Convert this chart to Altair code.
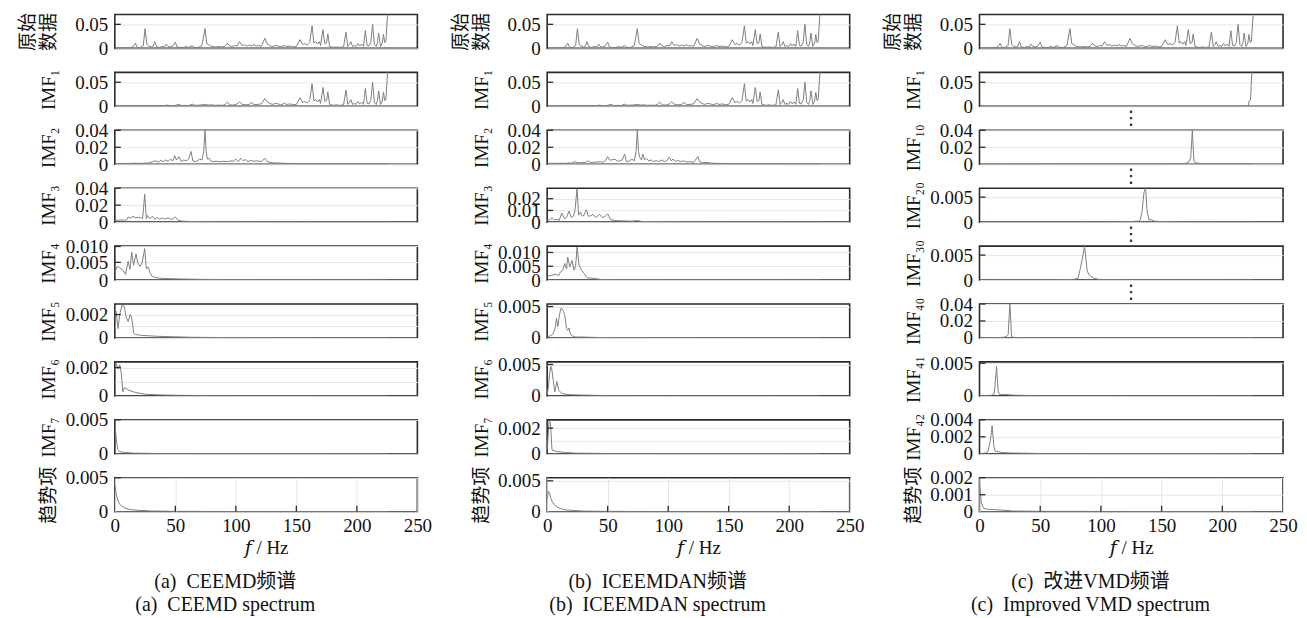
import altair as alt
import pandas as pd

FONT = "Liberation Serif, DejaVu Serif, Noto Sans CJK SC"

# ---------------- data (frequency in Hz, amplitude) ----------------
ORIG_F = [0, 4, 8, 12, 15, 17, 18.5, 21, 23.5, 25, 26.5, 28, 30, 31.5, 33, 34.5, 37, 39, 41, 42.5,
          44, 46, 48, 50, 51.5, 54, 57, 59, 61, 64, 66, 69, 72, 74.5, 76, 78, 80, 83, 86, 88,
          91, 93, 95, 97, 99, 101, 103, 105, 107, 109, 111, 113, 115, 117, 119, 121, 124, 126, 128, 130,
          133, 135, 137, 140, 142, 145, 147, 150, 153, 155, 157, 159, 161, 163, 164.5, 166, 167.5, 169, 170, 172,
          173.5, 175, 176, 177.5, 179, 181, 183, 186, 189, 191, 192.5, 194, 195, 196.5, 198, 199.5, 201, 202.5, 204, 205.5,
          207, 208.5, 210, 211.5, 213, 214.5, 216, 217, 218, 219.5, 221, 222, 223, 224, 226]
ORIG_V = [0.0005, 0.0008, 0.0012, 0.0015, 0.003, 0.011, 0.002, 0.002, 0.006, 0.041, 0.008, 0.005, 0.003, 0.004, 0.014, 0.003, 0.002, 0.004, 0.003, 0.009,
          0.004, 0.003, 0.005, 0.013, 0.003, 0.002, 0.002, 0.004, 0.002, 0.006, 0.002, 0.002, 0.006, 0.041, 0.010, 0.007, 0.004, 0.003, 0.004, 0.003,
          0.004, 0.011, 0.005, 0.004, 0.006, 0.005, 0.014, 0.006, 0.008, 0.005, 0.007, 0.005, 0.008, 0.005, 0.006, 0.004, 0.021, 0.009, 0.006, 0.004,
          0.006, 0.005, 0.003, 0.006, 0.004, 0.005, 0.003, 0.004, 0.018, 0.008, 0.010, 0.007, 0.012, 0.047, 0.011, 0.014, 0.009, 0.014, 0.006, 0.039,
          0.010, 0.012, 0.030, 0.004, 0.003, 0.002, 0.003, 0.002, 0.003, 0.034, 0.004, 0.008, 0.014, 0.004, 0.006, 0.004, 0.010, 0.005, 0.009, 0.004,
          0.037, 0.006, 0.005, 0.012, 0.050, 0.008, 0.004, 0.012, 0.032, 0.004, 0.011, 0.029, 0.012, 0.015, 0.095]

IMF1_LOW_F = [0, 5, 10, 13, 17, 20, 24, 27, 30, 33, 36, 40, 43, 46, 50, 53, 55, 58, 61, 64,
              66, 70, 72, 75, 77, 80, 83, 86, 89, 91, 93, 95, 98, 101, 103, 105, 108, 111, 113, 115,
              118, 121, 124, 126, 128, 130, 133, 135, 137, 140, 142, 145, 147, 150]
IMF1_LOW_V = [0.0005, 0.0008, 0.0015, 0.0010, 0.0018, 0.0008, 0.0015, 0.0010, 0.0020, 0.0012, 0.0018, 0.0010, 0.0025, 0.0012, 0.0020, 0.0040, 0.0015, 0.0020, 0.0015, 0.0045,
              0.0020, 0.0025, 0.0030, 0.0040, 0.0025, 0.0030, 0.0020, 0.0025, 0.0020, 0.0040, 0.0090, 0.0030, 0.0025, 0.0050, 0.0095, 0.0045, 0.0030, 0.0040, 0.0080, 0.0035,
              0.0040, 0.0050, 0.0160, 0.0090, 0.0060, 0.0040, 0.0060, 0.0050, 0.0030, 0.0060, 0.0040, 0.0050, 0.0030, 0.0040]

A_IMF2_F = [0, 5, 10, 15, 20, 25, 28, 31, 34, 36, 38, 40, 42, 44, 46, 48, 49.5, 51, 53, 55, 57, 59, 61, 63, 64.5,
            67, 70, 72, 73.5, 74.5, 75.5, 76.5, 78, 79, 81, 84, 87, 90, 93, 96, 98, 100, 102, 104, 106, 108, 110,
            112, 115, 118, 121, 124, 126, 129, 132, 136, 140, 150, 170, 200, 225]
A_IMF2_V = [0.0008, 0.0010, 0.0008, 0.0012, 0.0010, 0.0012, 0.0015, 0.0030, 0.0040, 0.0025, 0.0045, 0.0030, 0.0050, 0.0035, 0.0060, 0.0040, 0.0100, 0.0050, 0.0090, 0.0030, 0.0050, 0.0040, 0.0060, 0.0150, 0.0040,
            0.0030, 0.0060, 0.0050, 0.0150, 0.0400, 0.0150, 0.0060, 0.0070, 0.0040, 0.0030, 0.0035, 0.0030, 0.0035, 0.0030, 0.0040, 0.0035, 0.0060, 0.0030, 0.0070, 0.0040, 0.0055, 0.0030,
            0.0045, 0.0035, 0.0040, 0.0030, 0.0070, 0.0030, 0.0020, 0.0015, 0.0015, 0.0010, 0.0008, 0.0006, 0.0005, 0.0004]

A_IMF3_F = [0, 3, 6, 8, 10, 11, 13, 15, 17, 19.5, 21.5, 23, 24.7, 26, 27, 29, 31, 33, 35, 37, 39, 41, 44, 47, 50,
            52.5, 56, 61, 70, 80, 100, 120, 150, 225]
A_IMF3_V = [0.0025, 0.0022, 0.0026, 0.0020, 0.0030, 0.0060, 0.0048, 0.0068, 0.0052, 0.0055, 0.0050, 0.0045, 0.0330, 0.0040, 0.0080, 0.0040, 0.0070, 0.0035, 0.0056, 0.0035, 0.0050, 0.0035, 0.0050, 0.0030, 0.0060,
            0.0020, 0.0012, 0.0008, 0.0005, 0.0004, 0.0003, 0.0002, 0.0001, 0.0]

A_IMF4_F = [0, 2, 4, 6.6, 8.8, 11, 12.5, 14, 15.5, 17.5, 19, 20.8, 22.5, 24.7, 26, 27.5, 29, 31, 34, 38, 45, 55, 70, 100, 150, 225]
A_IMF4_V = [0.0021, 0.0039, 0.0035, 0.0028, 0.0016, 0.0053, 0.0030, 0.0079, 0.0042, 0.0074, 0.0048, 0.0039, 0.0048, 0.0089, 0.0032, 0.0037, 0.0021, 0.0010, 0.0007, 0.0005, 0.0004, 0.0003, 0.0002, 0.0001, 0.00005, 0.0]

A_IMF5_F = [0, 1, 2.7, 4, 6, 7.7, 9.3, 11, 12.6, 14, 15.6, 17, 22, 36, 50, 63, 90, 150, 225]
A_IMF5_V = [0.0015, 0.0023, 0.0008, 0.0020, 0.0028, 0.0027, 0.0018, 0.0014, 0.0020, 0.0017, 0.0004, 0.0003, 0.00022, 0.00014, 0.0001, 0.00006, 0.00003, 0.00001, 0.0]

A_IMF6_F = [0, 1, 2.7, 4, 5.2, 6.6, 8, 11.5, 17, 25, 36, 50, 80, 150, 225]
A_IMF6_V = [0.0017, 0.0023, 0.0019, 0.0022, 0.0017, 0.0003, 0.0006, 0.0004, 0.00024, 0.00012, 0.00007, 0.00004, 0.00002, 0.00001, 0.0]

A_IMF7_F = [0, 0.8, 1.6, 2.5, 4, 8, 15, 30, 80, 225]
A_IMF7_V = [0.0045, 0.0030, 0.0015, 0.0006, 0.0003, 0.0002, 0.0001, 0.00005, 0.00002, 0.0]

A_TREND_F = [0, 0.8, 1.6, 3.3, 5, 8.8, 13, 20, 30, 50, 100, 225]
A_TREND_V = [0.0039, 0.0030, 0.0022, 0.0013, 0.0009, 0.0005, 0.0003, 0.0002, 0.0001, 0.00005, 0.00002, 0.0]

B_IMF2_F = [0, 5, 10, 15, 18, 20, 23, 26, 29, 32, 34, 36, 40, 44, 46, 48, 50, 51.5, 53, 56, 58, 60, 62, 64, 65.5,
            68, 70, 72, 73.5, 74.5, 75.5, 76.5, 78, 79, 80.5, 82, 84, 86, 88, 90, 92, 95, 97, 99, 101, 102.5, 104,
            106, 108, 110, 113, 115, 118, 121, 124.5, 126, 129, 133, 136, 140, 150, 170, 190, 200, 225]
B_IMF2_V = [0.0012, 0.0010, 0.0012, 0.0010, 0.0015, 0.0012, 0.0030, 0.0015, 0.0020, 0.0025, 0.0040, 0.0020, 0.0025, 0.0030, 0.0020, 0.0040, 0.0090, 0.0050, 0.0050, 0.0060, 0.0035, 0.0040, 0.0050, 0.0120, 0.0030,
            0.0040, 0.0060, 0.0040, 0.0150, 0.0400, 0.0150, 0.0080, 0.0050, 0.0120, 0.0050, 0.0070, 0.0040, 0.0050, 0.0030, 0.0045, 0.0030, 0.0050, 0.0030, 0.0045, 0.0080, 0.0040, 0.0060,
            0.0035, 0.0045, 0.0030, 0.0040, 0.0025, 0.0030, 0.0020, 0.0090, 0.0030, 0.0020, 0.0020, 0.0012, 0.0010, 0.0008, 0.0006, 0.0004, 0.0002, 0.0001]

B_IMF3_F = [0, 1, 4, 6, 8, 10, 12, 14.5, 16, 18, 20, 21.5, 23, 24.7, 26, 27.5, 29, 30.5, 32.4, 34, 36, 38, 40, 41.5, 43.4,
            45.5, 47.5, 50, 52.5, 56, 60, 65, 70, 74.5, 78, 85, 100, 130, 180, 225]
B_IMF3_V = [0.0010, 0.0014, 0.0037, 0.0020, 0.0025, 0.0015, 0.0077, 0.0030, 0.0040, 0.0094, 0.0040, 0.0050, 0.0100, 0.0286, 0.0060, 0.0086, 0.0050, 0.0060, 0.0106, 0.0050, 0.0055, 0.0066, 0.0040, 0.0050, 0.0066,
            0.0040, 0.0045, 0.0071, 0.0020, 0.0014, 0.0012, 0.0010, 0.0008, 0.0014, 0.0006, 0.0004, 0.0003, 0.0002, 0.0001, 0.0]

B_IMF4_F = [0, 1, 4, 7.7, 9.5, 11, 13, 14.5, 16, 17, 18.7, 20.6, 22.2, 23.5, 24.7, 26.4, 28.3, 30.5, 33, 38, 45, 60, 100, 225]
B_IMF4_V = [0.0010, 0.0014, 0.0018, 0.0021, 0.0016, 0.0030, 0.0036, 0.0060, 0.0040, 0.0083, 0.0048, 0.0071, 0.0036, 0.0050, 0.0119, 0.0054, 0.0036, 0.0024, 0.0008, 0.0006, 0.0002, 0.0001, 0.00005, 0.0]

B_IMF5_F = [0, 1, 3, 5, 6.5, 7.7, 8.8, 10, 11.3, 12.5, 13.5, 14.5, 16, 17, 18, 19, 20, 23, 30, 36, 50, 100, 225]
B_IMF5_V = [0.0001, 0.0002, 0.0004, 0.0007, 0.0015, 0.0031, 0.0018, 0.0035, 0.0047, 0.0046, 0.0042, 0.0037, 0.0015, 0.0012, 0.0016, 0.0008, 0.0004, 0.00015, 0.00015, 0.0001, 0.00005, 0.00002, 0.0]

B_IMF6_F = [0, 1, 2, 3, 4, 5, 6.3, 8, 9.5, 12, 17, 25, 34, 50, 100, 225]
B_IMF6_V = [0.0002, 0.0014, 0.0035, 0.0047, 0.0040, 0.0025, 0.0006, 0.0023, 0.0009, 0.0004, 0.0002, 0.00015, 0.0001, 0.00005, 0.00002, 0.0]

B_IMF7_F = [0, 0.3, 1.6, 2.7, 4, 7.7, 15, 23, 50, 225]
B_IMF7_V = [0.0003, 0.0006, 0.0026, 0.0024, 0.0003, 0.00018, 0.0001, 0.00005, 0.00002, 0.0]

B_TREND_F = [0, 1, 2, 3, 4, 6, 8, 11, 15, 22, 30, 50, 100, 225]
B_TREND_V = [0.0020, 0.0033, 0.0030, 0.0022, 0.0017, 0.0011, 0.0008, 0.0005, 0.0003, 0.0002, 0.0001, 0.00005, 0.00002, 0.0]

C_IMF1_F = [0, 215, 220, 221.5, 222.2, 223.2, 224.5]
C_IMF1_V = [0.0, 0.0, 0.0002, 0.0015, 0.0120, 0.0130, 0.0800]

C_IMF10_F = [0, 150, 165, 170, 172.5, 174, 175.3, 176.6, 178, 183, 195, 225]
C_IMF10_V = [0.0, 0.0002, 0.0004, 0.0012, 0.0030, 0.0078, 0.0400, 0.0040, 0.0016, 0.0008, 0.0004, 0.0002]

C_IMF20_F = [0, 110, 125, 128.6, 131, 132.5, 134, 135.5, 136.8, 138, 139.5, 141.5, 144, 150, 170, 225]
C_IMF20_V = [0.0, 0.00002, 0.0001, 0.0002, 0.0002, 0.0005, 0.0023, 0.0060, 0.0068, 0.0023, 0.0005, 0.0005, 0.0002, 0.0001, 0.00003, 0.0]

C_IMF30_F = [0, 60, 70, 78, 81.3, 83, 84.5, 86.5, 88.7, 90, 91.5, 94, 98, 105, 125, 225]
C_IMF30_V = [0.0, 0.00002, 0.0001, 0.00014, 0.0004, 0.0023, 0.0040, 0.0068, 0.0019, 0.0011, 0.0008, 0.0004, 0.00014, 0.0001, 0.00003, 0.0]

C_IMF40_F = [0, 15, 19.5, 22, 23.6, 25, 26.4, 28, 32, 50, 225]
C_IMF40_V = [0.0, 0.0003, 0.0008, 0.0015, 0.0040, 0.0400, 0.0020, 0.0008, 0.0003, 0.0001, 0.0]

C_IMF41_F = [0, 10, 11.8, 12.6, 14, 15.4, 16.5, 22, 29, 50, 225]
C_IMF41_V = [0.0, 0.0001, 0.0002, 0.0012, 0.0045, 0.0007, 0.0002, 0.0002, 0.0001, 0.00003, 0.0]

C_IMF42_F = [0, 5, 7, 9, 10.4, 11.8, 13, 18.6, 25, 50, 225]
C_IMF42_V = [0.0, 0.0001, 0.0003, 0.0016, 0.0033, 0.0009, 0.0003, 0.00015, 0.0001, 0.00003, 0.0]

C_TREND_F = [0, 1.6, 3.5, 6, 13, 21, 27, 50, 225]
C_TREND_V = [0.0017, 0.0005, 0.0002, 0.00015, 0.00012, 0.00008, 0.00004, 0.00002, 0.0]

X_TICKS = [0, 50, 100, 150, 200, 250]

COL_CAPTIONS = [
    ["(a)\u00a0 CEEMD频谱", "(a)\u00a0 CEEMD spectrum"],
    ["(b)\u00a0 ICEEMDAN频谱", "(b)\u00a0 ICEEMDAN spectrum"],
    ["(c)\u00a0 改进VMD频谱", "(c)\u00a0 Improved VMD spectrum"],
]

tail = [i for i, f in enumerate(ORIG_F) if f >= 153]
IMF1_F = IMF1_LOW_F + [ORIG_F[i] for i in tail]
IMF1_V = IMF1_LOW_V + [ORIG_V[i] for i in tail]

# (title, freqs, values, ymax, tick values, tick labels, dots-below)
COL_A = [
    (["原始", "数据"], ORIG_F, ORIG_V, 0.0705, [0, 0.05], ["0", "0.05"], False),
    ("IMF₁", IMF1_F, IMF1_V, 0.0705, [0, 0.05], ["0", "0.05"], False),
    ("IMF₂", A_IMF2_F, A_IMF2_V, 0.04, [0, 0.02, 0.04], ["0", "0.02", "0.04"], False),
    ("IMF₃", A_IMF3_F, A_IMF3_V, 0.04, [0, 0.02, 0.04], ["0", "0.02", "0.04"], False),
    ("IMF₄", A_IMF4_F, A_IMF4_V, 0.0096, [0, 0.005, 0.0095], ["0", "0.005", "0.010"], False),
    ("IMF₅", A_IMF5_F, A_IMF5_V, 0.0029, [0, 0.001, 0.002], ["0", "", "0.002"], False),
    ("IMF₆", A_IMF6_F, A_IMF6_V, 0.0024, [0, 0.001, 0.002], ["0", "", "0.002"], False),
    ("IMF₇", A_IMF7_F, A_IMF7_V, 0.005, [0, 0.005], ["0", "0.005"], False),
    ("趋势项", A_TREND_F, A_TREND_V, 0.005, [0, 0.005], ["0", "0.005"], False),
]
COL_B = [
    (["原始", "数据"], ORIG_F, ORIG_V, 0.0705, [0, 0.05], ["0", "0.05"], False),
    ("IMF₁", IMF1_F, IMF1_V, 0.0705, [0, 0.05], ["0", "0.05"], False),
    ("IMF₂", B_IMF2_F, B_IMF2_V, 0.04, [0, 0.02, 0.04], ["0", "0.02", "0.04"], False),
    ("IMF₃", B_IMF3_F, B_IMF3_V, 0.029, [0, 0.01, 0.02], ["0", "0.01", "0.02"], False),
    ("IMF₄", B_IMF4_F, B_IMF4_V, 0.0123, [0, 0.005, 0.01], ["0", "0.005", "0.010"], False),
    ("IMF₅", B_IMF5_F, B_IMF5_V, 0.0054, [0, 0.005], ["0", "0.005"], False),
    ("IMF₆", B_IMF6_F, B_IMF6_V, 0.0054, [0, 0.005], ["0", "0.005"], False),
    ("IMF₇", B_IMF7_F, B_IMF7_V, 0.00265, [0, 0.001, 0.002], ["0", "", "0.002"], False),
    ("趋势项", B_TREND_F, B_TREND_V, 0.0055, [0, 0.005], ["0", "0.005"], False),
]
COL_C = [
    (["原始", "数据"], ORIG_F, ORIG_V, 0.0705, [0, 0.05], ["0", "0.05"], False),
    ("IMF₁", C_IMF1_F, C_IMF1_V, 0.0705, [0, 0.05], ["0", "0.05"], True),
    ("IMF₁₀", C_IMF10_F, C_IMF10_V, 0.04, [0, 0.02, 0.04], ["0", "0.02", "0.04"], True),
    ("IMF₂₀", C_IMF20_F, C_IMF20_V, 0.0068, [0, 0.005], ["0", "0.005"], True),
    ("IMF₃₀", C_IMF30_F, C_IMF30_V, 0.0068, [0, 0.005], ["0", "0.005"], True),
    ("IMF₄₀", C_IMF40_F, C_IMF40_V, 0.04, [0, 0.02, 0.04], ["0", "0.02", "0.04"], False),
    ("IMF₄₁", C_IMF41_F, C_IMF41_V, 0.0052, [0, 0.005], ["0", "0.005"], False),
    ("IMF₄₂", C_IMF42_F, C_IMF42_V, 0.004, [0, 0.002, 0.004], ["0", "0.002", "0.004"], False),
    ("趋势项", C_TREND_F, C_TREND_V, 0.002, [0, 0.001, 0.002], ["0", "0.001", "0.002"], False),
]

PANEL_H = 34
LINE_COLOR = "#808080"
FRAME = "#2b2b2b"


def label_expr(ticks, labels):
    expr = "''"
    for t, l in reversed(list(zip(ticks, labels))):
        expr = f"abs(datum.value - {t}) < 1e-9 ? '{l}' : ({expr})"
    return expr


def panel(spec, width, bottom):
    title, fs, vs, ymax, ticks, labels, dots = spec
    df = pd.DataFrame({"f": fs, "v": vs})
    xs = alt.Scale(domain=[0, 250], nice=False, zero=False)
    ys = alt.Scale(domain=[0, ymax], nice=False, zero=False)
    yaxis = alt.Axis(
        values=ticks, labelExpr=label_expr(ticks, labels), title=title,
        grid=True, ticks=False, domain=False, labelOverlap=False, labelFlush=False,
        labelPadding=7, minExtent=52, maxExtent=52, titlePadding=4,
    )
    if bottom:
        xaxis = alt.Axis(values=X_TICKS, format="d", title="𝑓 / Hz", grid=True, ticks=False,
                         domain=False, labelOverlap=False, labelFlush=False, labelPadding=5,
                         titlePadding=3)
    else:
        xaxis = None
    X = alt.X("f:Q", scale=xs, axis=xaxis)
    Y = alt.Y("v:Q", scale=ys, axis=yaxis)
    line = alt.Chart(df).mark_line(color=LINE_COLOR, strokeWidth=1, clip=True).encode(x=X, y=Y)
    layers = [line]
    ytick_df = pd.DataFrame({"v": [t for t, l in zip(ticks, labels) if l and t > 0]})
    layers.append(
        alt.Chart(ytick_df).mark_rule(color=FRAME, strokeWidth=1.3).encode(
            y=Y, x=alt.value(0), x2=alt.value(6))
    )
    if bottom:
        xtick_df = pd.DataFrame({"f": X_TICKS[1:-1]})
        layers.append(
            alt.Chart(xtick_df).mark_rule(color=FRAME, strokeWidth=1.3).encode(
                x=X, y=alt.value(PANEL_H), y2=alt.value(PANEL_H - 6))
        )
    if dots:
        dot_df = pd.DataFrame({"f": [125]})
        layers.append(
            alt.Chart(dot_df).mark_text(text="⋮", font="DejaVu Sans", fontSize=19,
                                        baseline="middle", color="#222").encode(
                x=X, y=alt.value(PANEL_H + 12))
        )
    return alt.layer(*layers).properties(width=width, height=PANEL_H)


def column(specs, width, caption):
    panels = [panel(s, width, i == len(specs) - 1) for i, s in enumerate(specs)]
    return alt.vconcat(*panels, spacing=24, bounds="flush").properties(
        title=alt.Title(caption, orient="bottom", anchor="middle", fontSize=20, font=FONT,
                        fontWeight="normal", lineHeight=23, offset=14, color="#111")
    )


chart = alt.hconcat(
    column(COL_A, 303, COL_CAPTIONS[0]),
    column(COL_B, 303, COL_CAPTIONS[1]),
    column(COL_C, 304, COL_CAPTIONS[2]),
    spacing=17,
).configure_view(
    stroke=FRAME, strokeWidth=1.6
).configure_axis(
    labelFont=FONT, titleFont=FONT, labelFontSize=19, titleFontSize=19,
    labelColor="#111", titleColor="#111", titleFontWeight="normal",
    gridColor="#e6e6e6", gridWidth=1,
).configure_title(
    font=FONT
).properties(
    padding={"left": 10, "top": 3, "right": 0, "bottom": 0}
)

chart.save("out.html", embed_options={"renderer": "svg", "actions": False})
